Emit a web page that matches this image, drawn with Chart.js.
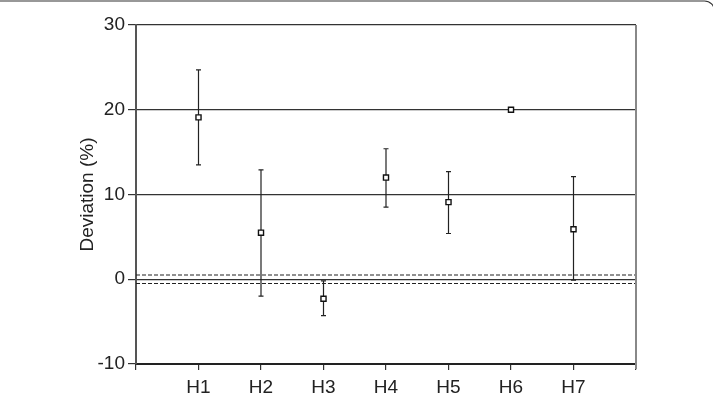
<!DOCTYPE html>
<html>
<head>
<meta charset="utf-8">
<script src="https://cdn.jsdelivr.net/npm/chart.js@4"></script>
<style>
    html, body { margin: 0; padding: 0; background: #fff; }
    #wrap { width: 713px; height: 402px; }
</style>
</head>
<body>
<div id="wrap"><canvas id="devChart" width="713" height="402"></canvas></div>
<script>
const groups = ['H1', 'H2', 'H3', 'H4', 'H5', 'H6', 'H7'];
const deviation = [19.1, 5.5, -2.3, 12.0, 9.1, 20.0, 5.9];
const upperBar = [24.7, 12.9, -0.2, 15.4, 12.7, 20.0, 12.1];
const lowerBar = [13.5, -2.0, -4.3, 8.5, 5.4, 20.0, -0.1];
const refBand = [-0.5, 0.5];
const yTicks = [-10, 0, 10, 20, 30];

const ctx = document.getElementById('devChart').getContext('2d');
const font = { family: '"Liberation Sans", Arial, Helvetica, sans-serif', size: 19 };

const points = groups.map((g, i) => ({ x: i + 1, y: deviation[i] }));

// error bars drawn under the markers, using the chart's scales
const errorBars = {
    id: 'errorBars',
    beforeDatasetsDraw(chart) {
        const { ctx, scales: { x, y } } = chart;
        ctx.save();
        ctx.strokeStyle = '#222';
        ctx.lineWidth = 1.2;
        groups.forEach((g, i) => {
            if (upperBar[i] === lowerBar[i]) return;
            const px = x.getPixelForValue(i + 1);
            const top = y.getPixelForValue(upperBar[i]);
            const bot = y.getPixelForValue(lowerBar[i]);
            ctx.beginPath();
            ctx.moveTo(px, top); ctx.lineTo(px, bot);
            ctx.moveTo(px - 2.5, top); ctx.lineTo(px + 2.5, top);
            ctx.moveTo(px - 2.5, bot); ctx.lineTo(px + 2.5, bot);
            ctx.stroke();
        });
        ctx.restore();
    },
    afterDraw(chart) {
        const { ctx, chartArea: a } = chart;
        ctx.save();
        // right border of the plot
        ctx.strokeStyle = '#888';
        ctx.lineWidth = 2;
        ctx.beginPath();
        ctx.moveTo(a.right, a.top);
        ctx.lineTo(a.right, a.bottom + 5);
        ctx.stroke();
        // rounded frame around the figure
        ctx.strokeStyle = '#333';
        ctx.lineWidth = 1.2;
        ctx.beginPath();
        ctx.roundRect(-20, 1, 734.5, 500, 10);
        ctx.stroke();
        ctx.restore();
    }
};

new Chart(ctx, {
    type: 'scatter',
    data: {
        datasets: [
            {
                data: points,
                pointStyle: 'rect',
                pointRadius: 3.6,
                pointBackgroundColor: '#fff',
                pointBorderColor: '#111',
                pointBorderWidth: 1.4,
                order: 0
            },
            ...refBand.map(v => ({
                data: [{ x: 0, y: v }, { x: 8, y: v }],
                showLine: true,
                borderColor: '#222',
                borderWidth: 1.2,
                borderDash: [4, 2],
                pointRadius: 0,
                order: 1
            }))
        ]
    },
    options: {
        responsive: false,
        animation: false,
        layout: { padding: { left: 72, right: 77, top: 25, bottom: 0 } },
        plugins: {
            legend: { display: false },
            tooltip: { enabled: false }
        },
        scales: {
            x: {
                type: 'linear',
                min: 0,
                max: 8,
                afterFit(scale) { scale.height = 38; },
                afterBuildTicks(scale) {
                    scale.ticks = [0, 1, 2, 3, 4, 5, 6, 7, 8].map(v => ({ value: v }));
                },
                ticks: {
                    font: font,
                    color: '#222',
                    padding: 6,
                    maxRotation: 0,
                    callback: v => (v >= 1 && v <= 7) ? groups[v - 1] : ''
                },
                grid: { drawOnChartArea: false, drawTicks: true, tickLength: 6, color: '#333', lineWidth: 1.2 },
                border: { display: true, color: '#222', width: 2 }
            },
            y: {
                min: -10,
                max: 30,
                afterFit(scale) { scale.width = 64; },
                afterBuildTicks(scale) {
                    scale.ticks = yTicks.map(v => ({ value: v }));
                },
                ticks: { font: font, color: '#222', padding: 3 },
                grid: { color: '#333', lineWidth: 1.2, tickLength: 8 },
                border: { display: true, color: '#555', width: 2 },
                title: { display: true, text: 'Deviation (%)', font: font, color: '#222' }
            }
        }
    },
    plugins: [errorBars]
});
</script>
</body>
</html>
